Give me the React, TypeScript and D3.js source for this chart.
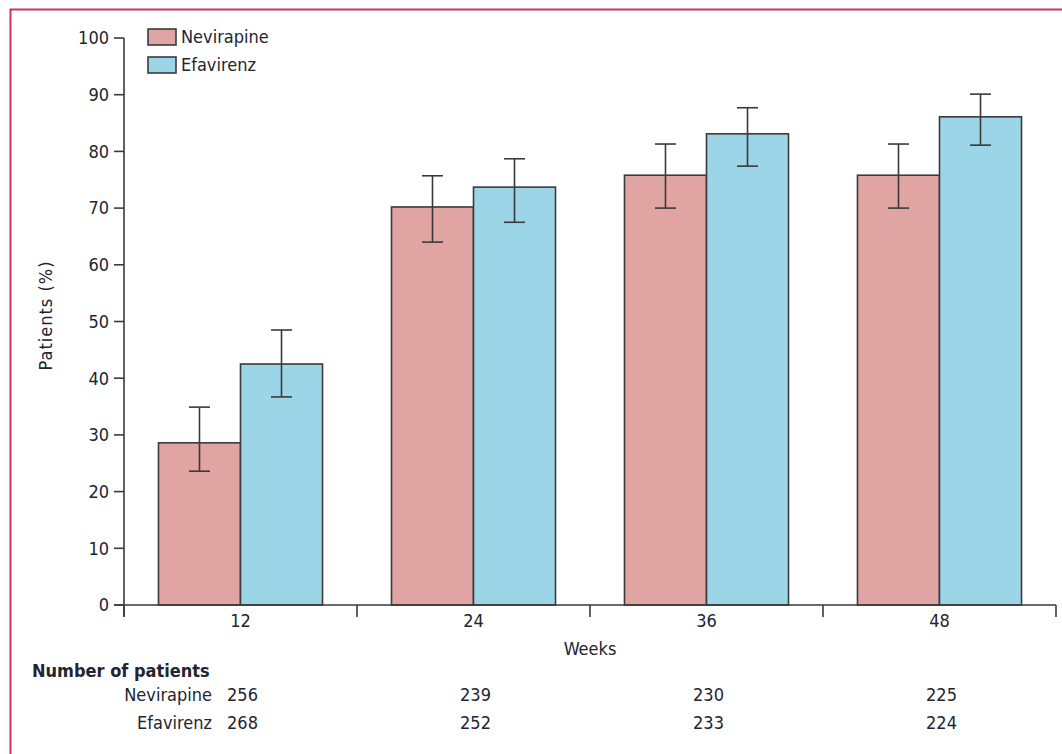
import React from "react";
import * as d3 from "d3";

const weeks = ["12", "24", "36", "48"];
const seriesNames = ["Nevirapine", "Efavirenz"];
const nevirapine = [28.6, 70.2, 75.8, 75.8];
const nevirapineLow = [23.6, 64.0, 70.0, 70.0];
const nevirapineHigh = [34.9, 75.7, 81.3, 81.3];
const efavirenz = [42.5, 73.7, 83.1, 86.1];
const efavirenzLow = [36.7, 67.5, 77.4, 81.1];
const efavirenzHigh = [48.5, 78.7, 87.7, 90.1];
const nevirapineN = [256, 239, 230, 225];
const efavirenzN = [268, 252, 233, 224];
const yTicks = [0, 10, 20, 30, 40, 50, 60, 70, 80, 90, 100];

const colors = ["#e0a4a3", "#9dd5e8"];
const ink = "#3a3a3a";
const textColor = "#22252f";
const font = "'Liberation Sans Narrow', 'DejaVu Sans Condensed', 'Open Sans', sans-serif";
const fs = 18;

export default function App() {
  const W = 1062;
  const H = 754;
  const left = 124;
  const right = 1056;
  const top = 38;
  const bottom = 605;

  const x = d3.scaleBand<string>().domain(weeks).range([left, right]).paddingInner(0).paddingOuter(0);
  const y = d3.scaleLinear().domain([0, 100]).range([bottom, top]);
  const barW = x.bandwidth() * 0.352;

  const series = [
    { name: seriesNames[0], vals: nevirapine, lo: nevirapineLow, hi: nevirapineHigh, color: colors[0] },
    { name: seriesNames[1], vals: efavirenz, lo: efavirenzLow, hi: efavirenzHigh, color: colors[1] },
  ];

  const boundaries = [...weeks.map((w) => x(w)!), right];

  return (
    <svg width={W} height={H} style={{ position: "absolute", left: 0, top: 0 }} fontFamily={font}>
      <rect x={0} y={0} width={W} height={H} fill="#fff" />
      {/* frame */}
      <path d={`M10.5,${H + 5} V9.5 H${W + 5}`} fill="none" stroke="#c8325f" strokeWidth={2} />

      {/* bars */}
      {series.map((s, si) =>
        weeks.map((w, i) => {
          const cx = x(w)! + x.bandwidth() / 2;
          const bx = si === 0 ? cx - barW : cx;
          return (
            <rect
              key={`${si}-${w}`}
              x={bx}
              y={y(s.vals[i])}
              width={barW}
              height={y(0) - y(s.vals[i])}
              fill={s.color}
              stroke={ink}
              strokeWidth={1.6}
            />
          );
        })
      )}

      {/* error bars */}
      {series.map((s, si) =>
        weeks.map((w, i) => {
          const cx = x(w)! + x.bandwidth() / 2;
          const ex = si === 0 ? cx - barW / 2 : cx + barW / 2;
          const cap = 10.5;
          return (
            <g key={`e${si}-${w}`} stroke={ink} strokeWidth={1.6}>
              <line x1={ex} x2={ex} y1={y(s.lo[i])} y2={y(s.hi[i])} />
              <line x1={ex - cap} x2={ex + cap} y1={y(s.hi[i])} y2={y(s.hi[i])} />
              <line x1={ex - cap} x2={ex + cap} y1={y(s.lo[i])} y2={y(s.lo[i])} />
            </g>
          );
        })
      )}

      {/* y axis */}
      <line x1={left} x2={left} y1={y(100)} y2={bottom + 12} stroke={ink} strokeWidth={1.6} />
      {yTicks.map((t) => (
        <g key={t}>
          <line x1={left - 10} x2={left} y1={y(t)} y2={y(t)} stroke={ink} strokeWidth={1.6} />
          <text x={left - 15} y={y(t)} dy="0.35em" textAnchor="end" fontSize={fs} fill={textColor}>
            {t}
          </text>
        </g>
      ))}

      {/* x axis */}
      <line x1={left - 10} x2={right} y1={bottom} y2={bottom} stroke={ink} strokeWidth={1.6} />
      {boundaries.map((b, i) => (
        <line key={i} x1={b} x2={b} y1={bottom} y2={bottom + 12} stroke={ink} strokeWidth={1.6} />
      ))}
      {weeks.map((w) => (
        <text key={w} x={x(w)! + x.bandwidth() / 2} y={627} textAnchor="middle" fontSize={fs} fill={textColor}>
          {w}
        </text>
      ))}
      <text x={590} y={655} textAnchor="middle" fontSize={fs} fill={textColor}>
        Weeks
      </text>
      <text
        transform={`translate(52,${(top + bottom) / 2 - 6}) rotate(-90)`}
        textAnchor="middle"
        fontSize={fs}
        letterSpacing={1}
        fill={textColor}
      >
        Patients (%)
      </text>

      {/* legend */}
      {series.map((s, si) => (
        <g key={s.name} transform={`translate(148,${29 + si * 28})`}>
          <rect x={0} y={0} width={28} height={16} fill={s.color} stroke={ink} strokeWidth={1.6} />
          <text x={33} y={8} dy="0.35em" fontSize={fs} fill={textColor}>
            {s.name}
          </text>
        </g>
      ))}

      {/* number at risk table */}
      <text x={32} y={677} fontSize={fs} fontWeight="bold" fill={textColor}>
        Number of patients
      </text>
      {[nevirapineN, efavirenzN].map((row, ri) => (
        <g key={ri}>
          <text x={212} y={701 + ri * 28} textAnchor="end" fontSize={fs} fill={textColor}>
            {seriesNames[ri]}
          </text>
          {row.map((n, i) => (
            <text
              key={i}
              x={x(weeks[i])! + x.bandwidth() / 2 + 2}
              y={701 + ri * 28}
              textAnchor="middle"
              fontSize={fs}
              fill={textColor}
            >
              {n}
            </text>
          ))}
        </g>
      ))}
    </svg>
  );
}
